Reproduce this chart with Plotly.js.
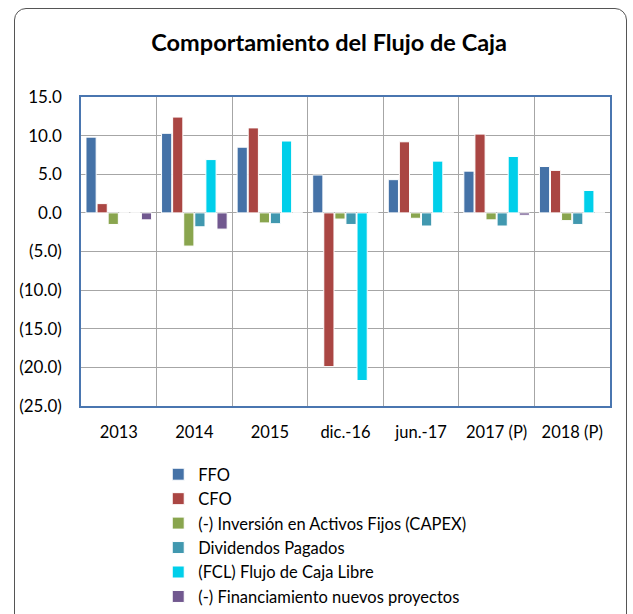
<!DOCTYPE html>
<html>
<head>
<meta charset="utf-8">
<script src="https://cdn.plot.ly/plotly-3.0.1.min.js"></script>
<style>
  body { margin:0; background:#fff; }
  #marco {
    position:absolute; left:14px; top:8px; width:613px; height:620px;
    border:1.5px solid #555; border-radius:12px; box-sizing:border-box;
  }
  #grafica { position:absolute; left:0; top:0; width:633px; height:614px; }
</style>
</head>
<body>
<div id="marco"></div>
<div id="grafica"></div>
<script>
const periodos = ['2013','2014','2015','dic.-16','jun.-17','2017 (P)','2018 (P)'];

const ffo   = [9.8, 10.3, 8.5, 4.9, 4.3, 5.4, 6.0];
const cfo   = [1.2, 12.4, 11.0, -19.9, 9.2, 10.2, 5.5];
const capex = [-1.5, -4.3, -1.3, -0.8, -0.7, -0.9, -1.0];
const dividendos = [0, -1.8, -1.4, -1.5, -1.7, -1.7, -1.5];
const fcl   = [0, 6.9, 9.3, -21.7, 6.7, 7.3, 2.9];
const financiamiento = [-0.9, -2.1, 0, 0, 0, -0.3, 0];

const valoresY = [15, 10, 5, 0, -5, -10, -15, -20, -25];
const textosY = ['15.0','10.0','5.0','0.0','(5.0)','(10.0)','(15.0)','(20.0)','(25.0)'];

function serie(nombre, valores, color){
    return {
        type:'bar',
        name:nombre,
        x:periodos,
        y:valores,
        marker:{
            color:color,
            line:{color:'white', width:1}
        }
    };
}

const traces = [
    serie('FFO', ffo, '#4572A7'),
    serie('CFO', cfo, '#AA4643'),
    serie('(-) Inversión en Activos Fijos (CAPEX)', capex, '#89A54E'),
    serie('Dividendos Pagados', dividendos, '#4198AF'),
    serie('(FCL) Flujo de Caja Libre', fcl, '#00CFEA'),
    serie('(-) Financiamiento nuevos proyectos', financiamiento, '#71588F')
];

const layout = {
    width:633,
    height:614,
    margin:{l:81, r:23, t:97, b:208, autoexpand:false},
    paper_bgcolor:'rgba(0,0,0,0)',
    plot_bgcolor:'white',
    font:{family:'Lato, "Open Sans", sans-serif', size:16, color:'#000'},
    title:{
        text:'<b>Comportamiento del Flujo de Caja</b>',
        font:{size:23.5, color:'#000'},
        x:0.52, xanchor:'center',
        y:0.93, yanchor:'middle'
    },
    barmode:'group',
    bargap:0.12,
    bargroupgap:0.08,
    showlegend:true,
    legend:{
        x:0.146, xanchor:'left',
        y:-0.165, yanchor:'top',
        font:{size:16.5},
        traceorder:'normal',
        bgcolor:'rgba(0,0,0,0)'
    },
    xaxis:{
        type:'category',
        tickson:'boundaries',
        showgrid:true,
        gridcolor:'#a6a6a6',
        gridwidth:1,
        ticks:'',
        showline:true,
        mirror:true,
        linecolor:'#4a76b0',
        linewidth:1.5,
        ticklabelstandoff:10,
        tickfont:{size:16.5}
    },
    yaxis:{
        range:[-25, 15],
        tickvals:valoresY,
        ticktext:textosY,
        showgrid:true,
        gridcolor:'#a6a6a6',
        gridwidth:1,
        zeroline:true,
        zerolinecolor:'#a6a6a6',
        zerolinewidth:1,
        showline:true,
        mirror:true,
        linecolor:'#4a76b0',
        linewidth:1.5,
        ticks:'',
        ticklabelstandoff:14,
        tickfont:{size:17}
    }
};

Plotly.newPlot('grafica', traces, layout, {displayModeBar:false, responsive:false});
</script>
</body>
</html>
